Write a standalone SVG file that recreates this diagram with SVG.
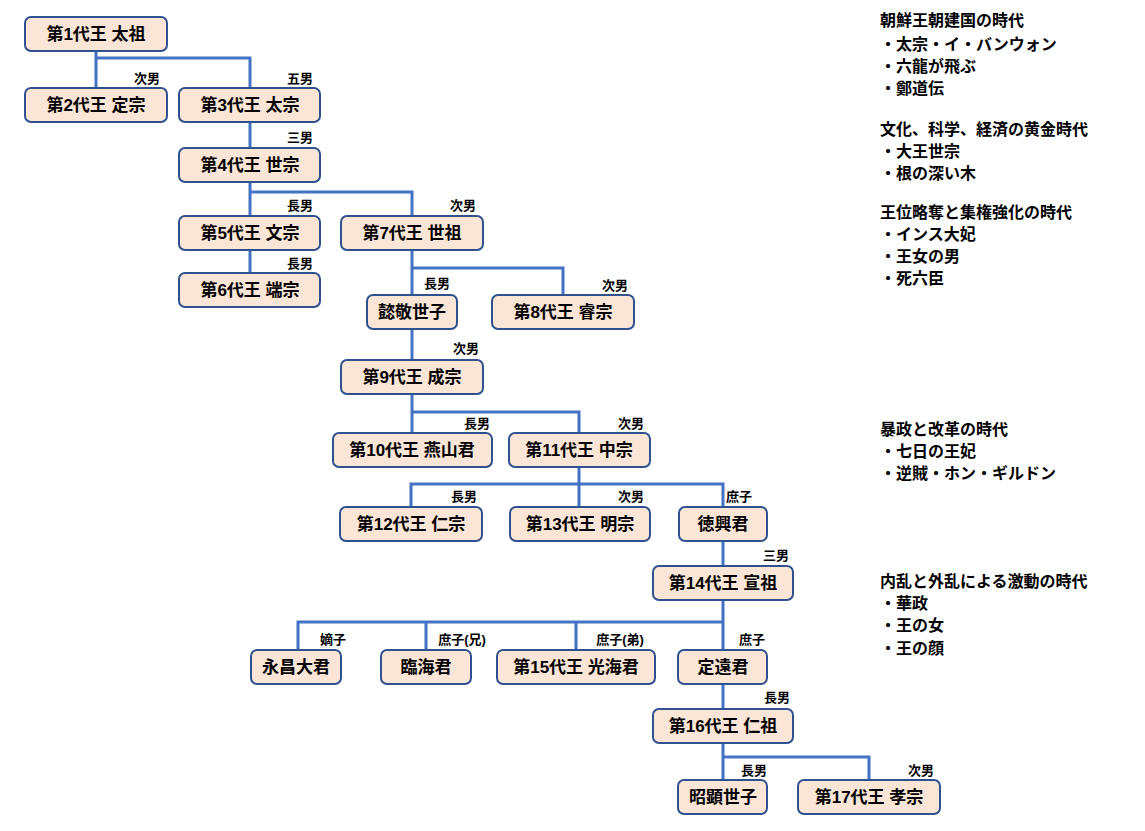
<svg xmlns="http://www.w3.org/2000/svg" width="1145" height="831" viewBox="0 0 1145 831">
<style>
.n rect{fill:#fbe5d6;stroke:#2f528f;stroke-width:2}
.n text{font-family:"Liberation Sans","Noto Sans CJK JP",sans-serif;font-size:17px;font-weight:bold;fill:#000;text-anchor:middle}
.c path{fill:none;stroke:#4472c4;stroke-width:3}
.l{font-family:"Liberation Sans","Noto Sans CJK JP",sans-serif;font-size:13px;font-weight:bold;text-anchor:middle}
.r{font-family:"Liberation Sans","Noto Sans CJK JP",sans-serif;font-size:16px;font-weight:bold}
</style>
<rect width="1145" height="831" fill="#fff"/>
<g class="c">
<path d="M96 51V58H250V88M96 58V88"/>
<path d="M250 122V148"/>
<path d="M250 182V216M250 192H412V216"/>
<path d="M250 250V273"/>
<path d="M412 250V295M412 268H563V295"/>
<path d="M412 329V360"/>
<path d="M412 394V433M412 412H579V433"/>
<path d="M579 467V507M411 507V484H723V507"/>
<path d="M723 541V566"/>
<path d="M723 600V650M298 650V622H723M426 622V650M576 622V650"/>
<path d="M723 684V709"/>
<path d="M723 743V780M723 757H869V780"/>
</g>
<g class="l">
<text x="147" y="83">次男</text><text x="300" y="83">五男</text>
<text x="300" y="142">三男</text><text x="300" y="210">長男</text><text x="463" y="210">次男</text>
<text x="300" y="268">長男</text><text x="437" y="288">長男</text><text x="615" y="290">次男</text>
<text x="466" y="353">次男</text><text x="477" y="428">長男</text><text x="631" y="428">次男</text>
<text x="464" y="501">長男</text><text x="631" y="501">次男</text><text x="739" y="501">庶子</text>
<text x="776" y="560">三男</text><text x="333" y="644">嫡子</text><text x="462" y="644">庶子(兄)</text>
<text x="620" y="644">庶子(弟)</text><text x="752" y="644">庶子</text><text x="777" y="702">長男</text>
<text x="754" y="775">長男</text><text x="921" y="775">次男</text>
</g>
<g id="n1" class="n"><rect x="25" y="17" width="142" height="34" rx="6"/><text x="96" y="40">第1代王 太祖</text></g>
<g id="n2" class="n"><rect x="25" y="88" width="142" height="34" rx="6"/><text x="96" y="111">第2代王 定宗</text></g>
<g id="n3" class="n"><rect x="179" y="88" width="141" height="34" rx="6"/><text x="250" y="111">第3代王 太宗</text></g>
<g id="n4" class="n"><rect x="179" y="148" width="141" height="34" rx="6"/><text x="250" y="171">第4代王 世宗</text></g>
<g id="n5" class="n"><rect x="179" y="216" width="141" height="34" rx="6"/><text x="250" y="239">第5代王 文宗</text></g>
<g id="n7" class="n"><rect x="341" y="216" width="142" height="34" rx="6"/><text x="412" y="239">第7代王 世祖</text></g>
<g id="n6" class="n"><rect x="179" y="273" width="141" height="34" rx="6"/><text x="250" y="296">第6代王 端宗</text></g>
<g id="ui" class="n"><rect x="367" y="295" width="90" height="34" rx="6"/><text x="412" y="318">懿敬世子</text></g>
<g id="n8" class="n"><rect x="492" y="295" width="142" height="34" rx="6"/><text x="563" y="318">第8代王 睿宗</text></g>
<g id="n9" class="n"><rect x="341" y="360" width="142" height="34" rx="6"/><text x="412" y="383">第9代王 成宗</text></g>
<g id="n10" class="n"><rect x="333" y="433" width="159" height="34" rx="6"/><text x="412" y="456">第10代王 燕山君</text></g>
<g id="n11" class="n"><rect x="509" y="433" width="141" height="34" rx="6"/><text x="579" y="456">第11代王 中宗</text></g>
<g id="n12" class="n"><rect x="340" y="507" width="142" height="34" rx="6"/><text x="411" y="530">第12代王 仁宗</text></g>
<g id="n13" class="n"><rect x="510" y="507" width="140" height="34" rx="6"/><text x="580" y="530">第13代王 明宗</text></g>
<g id="dk" class="n"><rect x="679" y="507" width="88" height="34" rx="6"/><text x="723" y="530">徳興君</text></g>
<g id="n14" class="n"><rect x="653" y="566" width="140" height="34" rx="6"/><text x="723" y="589">第14代王 宣祖</text></g>
<g id="yc" class="n"><rect x="251" y="650" width="90" height="34" rx="6"/><text x="296" y="673">永昌大君</text></g>
<g id="rh" class="n"><rect x="381" y="650" width="90" height="34" rx="6"/><text x="426" y="673">臨海君</text></g>
<g id="n15" class="n"><rect x="497" y="650" width="158" height="34" rx="6"/><text x="576" y="673">第15代王 光海君</text></g>
<g id="te" class="n"><rect x="678" y="650" width="89" height="34" rx="6"/><text x="723" y="673">定遠君</text></g>
<g id="n16" class="n"><rect x="653" y="709" width="140" height="34" rx="6"/><text x="723" y="732">第16代王 仁祖</text></g>
<g id="sk" class="n"><rect x="678" y="780" width="89" height="34" rx="6"/><text x="723" y="803">昭顕世子</text></g>
<g id="n17" class="n"><rect x="798" y="780" width="142" height="34" rx="6"/><text x="869" y="803">第17代王 孝宗</text></g>
<g class="r">
<text x="880" y="26">朝鮮王朝建国の時代</text><text x="880" y="50">・太宗・イ・バンウォン</text><text x="880" y="72">・六龍が飛ぶ</text><text x="880" y="94">・鄭道伝</text>
<text x="880" y="135">文化、科学、経済の黄金時代</text><text x="880" y="157">・大王世宗</text><text x="880" y="179">・根の深い木</text>
<text x="880" y="218">王位略奪と集権強化の時代</text><text x="880" y="240">・インス大妃</text><text x="880" y="262">・王女の男</text><text x="880" y="284">・死六臣</text>
<text x="880" y="435">暴政と改革の時代</text><text x="880" y="457">・七日の王妃</text><text x="880" y="479">・逆賊・ホン・ギルドン</text>
<text x="880" y="587">内乱と外乱による激動の時代</text><text x="880" y="609">・華政</text><text x="880" y="631">・王の女</text><text x="880" y="654">・王の顔</text>
</g>
</svg>
